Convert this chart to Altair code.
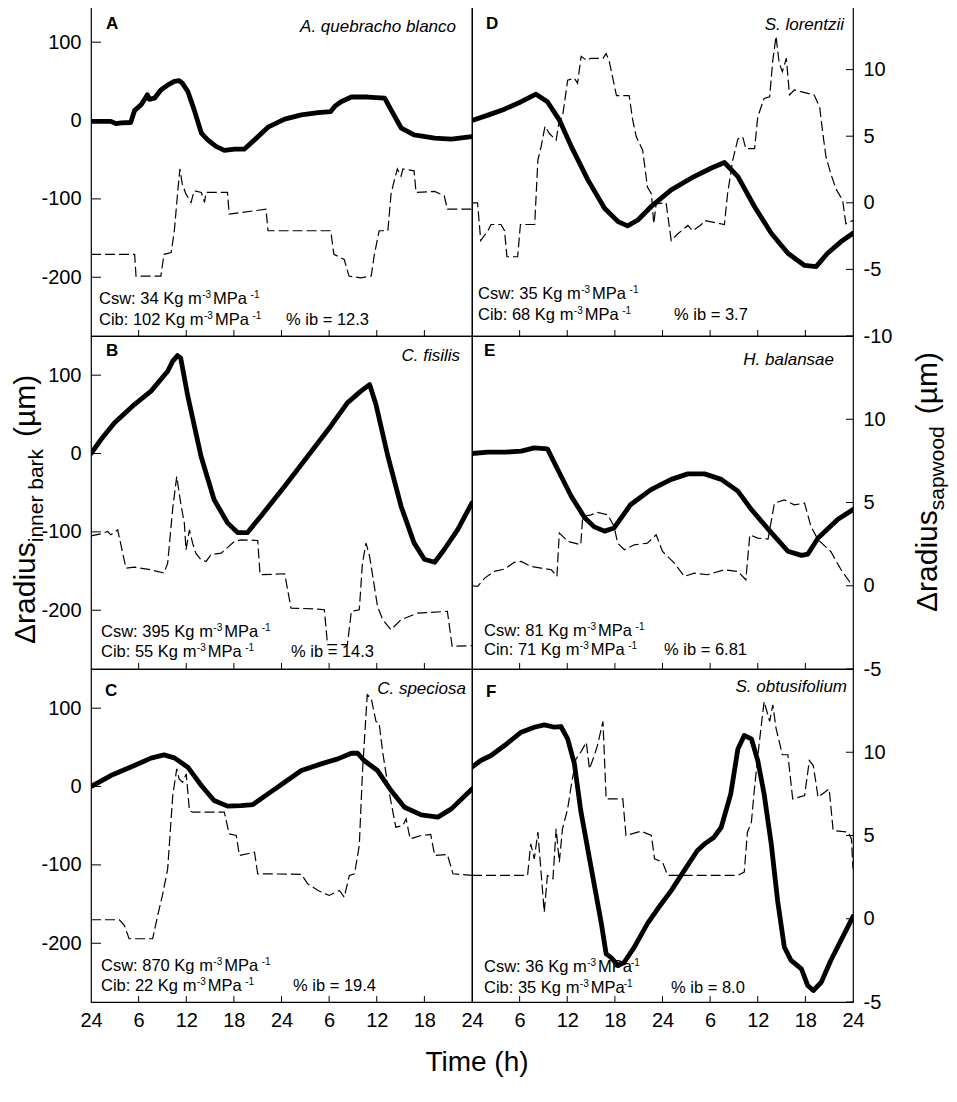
import altair as alt
import pandas as pd

FONT = "Liberation Sans"

# ---------------- data: (time in h, value in µm) ----------------
# inner bark (left axis) and sapwood (right axis) for each panel
A_ib = [(0,-1),(2.5,-1),(3.15,-4),(3.8,-3),(5.0,-2.5),(5.5,13),(6.3,20),(6.7,26),(7.1,33),(7.35,27),(8.0,28.5),(8.8,39),(9.7,45.5),(10.5,50),(11.1,51),(11.5,47.7),(12.2,37),(13.0,13.6),(13.9,-16),(14.7,-24.7),(15.75,-33),(16.8,-38),(18.1,-36.6),(19.3,-36.6),(20.6,-24.7),(22.3,-8.5),(24.4,1.7),(26.5,7.2),(28.6,10.2),(30.2,11.5),(30.7,18),(31.5,24),(32.8,30),(34.9,30),(37.0,28.5),(37.8,13.6),(39.1,-9.8),(40.7,-18.3),(43.3,-22.5),(45.4,-23.8),(48,-20.4)]
A_sw = [(0,-3.87),(5.5,-3.87),(5.67,-5.5),(8.8,-5.5),(9.2,-3.87),(10.1,-3.74),(10.5,-2.1),(10.9,0.65),(11.2,2.54),(11.5,1.4),(11.97,0.65),(12.6,0.03),(13.0,0.9),(13.9,0.78),(14.3,0.03),(14.5,0.78),(17.2,0.78),(17.4,-0.85),(18.9,-0.73),(22.05,-0.48),(22.3,-2.1),(30.2,-2.1),(30.6,-3.87),(31.9,-4.25),(32.5,-5.5),(34.0,-5.63),(35.3,-5.5),(35.7,-3.87),(36.3,-2.1),(37.4,-2.1),(37.8,0.65),(38.2,1.66),(38.6,2.54),(39.06,2.0),(39.3,2.54),(40.7,2.4),(40.95,0.78),(43.3,0.85),(44.5,0.53),(44.9,-0.48),(48,-0.48)]

D_ib = [(0,0),(2.1,7.2),(4.1,14.5),(6.2,24),(8.06,33.6),(9.5,24),(11.0,0.9),(12.5,-33),(14.6,-75.7),(16.7,-112),(18.4,-129),(19.6,-134.5),(20.9,-127),(22.55,-110),(25.1,-88.5),(27.6,-73.6),(30.1,-60.9),(31.8,-53.6),(33.5,-71.5),(35.6,-110),(37.7,-143.8),(39.8,-169.4),(41.9,-185),(43.35,-186.4),(44.8,-169.4),(46.5,-154.5),(48,-143.8)]
D_sw = [(0,0),(0.7,0),(1.1,-2.84),(2.0,-2.1),(2.4,-1.63),(3.65,-1.63),(4.1,-2.1),(4.4,-4.05),(5.75,-4.05),(6.1,-1.63),(7.9,-1.63),(8.3,3.2),(8.7,4.2),(9.2,5.75),(9.75,5.2),(10.6,4.7),(11.0,6.2),(11.4,6.45),(12.05,9.2),(12.9,9.35),(13.3,8.97),(13.75,11.0),(14.4,10.7),(15.0,10.85),(16.5,10.85),(16.9,11.2),(17.3,10.6),(18.2,8.04),(19.8,8.04),(20.25,6.2),(20.7,4.95),(21.5,3.95),(22.1,1.18),(22.6,0.68),(22.9,-1.58),(23.2,-0.08),(24.45,0),(25.1,-2.84),(25.9,-2.34),(27.2,-1.7),(27.8,-2.1),(28.9,-1.63),(29.3,-1.33),(31.8,-1.63),(32.2,0.68),(32.85,3.2),(33.5,4.8),(34.1,4.95),(34.5,4.07),(35.6,4.07),(36.0,6.45),(36.8,7.84),(37.5,7.96),(37.9,10.7),(38.3,12.5),(38.7,10.5),(39.1,9.85),(39.6,10.85),(40.0,8.1),(40.6,8.47),(43.1,8.1),(43.8,7.2),(44.2,5.2),(44.6,3.44),(45.2,2.19),(45.85,1.05),(46.7,0.18),(47.1,-1.58),(48,-1.33)]

B_ib = [(0,0),(1.26,17.9),(2.94,39),(5.46,62.5),(7.56,79.6),(9.66,105),(10.3,117.9),(10.9,125),(11.3,122),(12.2,73),(13.86,-3.4),(15.5,-58.7),(17.2,-88.5),(18.5,-101),(19.7,-101),(21.4,-80),(24.4,-41.7),(27.3,-3.4),(30.2,34.9),(32.3,64.7),(34.0,79.6),(35.1,88),(35.9,62.5),(37.4,-3.4),(39.06,-67.2),(40.7,-114),(42.0,-135),(43.3,-138.7),(44.5,-122.5),(46.2,-97),(48,-63)]
B_sw = [(0,3.0),(1.26,3.12),(2.1,3.26),(2.5,3.06),(3.36,3.36),(4.4,1.06),(5.46,1.12),(7.56,0.96),(9.2,0.76),(9.66,1.36),(10.3,4.66),(10.8,6.56),(11.3,4.96),(11.76,3.76),(11.97,2.16),(12.4,3.36),(12.8,2.56),(13.2,1.96),(13.86,1.56),(14.5,1.46),(15.1,1.86),(16.4,1.96),(18.06,2.66),(18.9,2.76),(21.0,2.72),(21.3,0.66),(24.4,0.72),(25.2,-1.34),(28.56,-1.4),(29.4,-1.44),(29.8,-3.54),(32.3,-3.54),(32.8,-1.54),(33.8,-1.44),(34.2,1.36),(34.65,2.56),(35.1,1.76),(35.5,0.56),(36.1,-1.24),(36.75,-2.04),(37.8,-2.64),(39.06,-2.04),(41.16,-1.64),(44.9,-1.54),(45.5,-3.64),(48,-3.6)]

E_ib = [(0,0),(2.0,1.7),(4.1,1.7),(6.2,3.0),(7.85,7.2),(9.5,6),(10.8,-20.4),(12.5,-54.5),(14.2,-82),(15.4,-93.6),(16.7,-99),(17.9,-95),(20.0,-65),(22.55,-46),(25.1,-33),(27.2,-26),(29.3,-26),(31.4,-33),(33.5,-48),(35.2,-71.5),(37.7,-101),(39.8,-124.7),(41.5,-130),(42.3,-128.5),(43.6,-107.7),(46.1,-84),(48,-71.5)]
E_sw = [(0,0),(0.7,-0.04),(1.6,0.46),(2.8,0.86),(4.1,1.0),(5.3,1.4),(6.2,1.46),(7.4,1.16),(8.7,1.06),(10.0,0.96),(10.7,0.56),(11.0,3.16),(12.1,2.66),(13.7,2.46),(13.95,4.16),(15.0,4.26),(15.8,4.4),(17.1,4.26),(17.9,3.56),(18.35,2.56),(19.2,2.16),(20.45,2.46),(22.1,2.56),(23.2,3.06),(24.0,2.06),(25.5,1.36),(26.75,0.56),(28.0,0.76),(29.7,0.66),(31.8,0.96),(33.5,0.86),(34.5,0.36),(35.0,3.06),(36.0,2.86),(37.3,2.8),(38.1,4.96),(39.35,5.16),(40.6,4.86),(41.9,4.96),(42.7,3.56),(43.6,2.76),(45.2,2.06),(46.5,0.96),(47.75,0.12),(48,0.16)]

C_ib = [(0,0),(2.5,14),(5.46,26.8),(7.56,36.2),(9.2,40.4),(10.5,36.6),(12.2,24.7),(13.9,1.3),(15.5,-17.9),(17.2,-25),(18.9,-24.3),(20.4,-23),(22.3,-9.4),(24.4,5.5),(26.5,20.4),(29.0,28.9),(31.1,35.3),(32.8,42.5),(33.6,42.5),(34.4,33.2),(36.1,20.4),(37.8,-5.1),(39.5,-26.4),(41.6,-36.2),(43.7,-39.1),(45.4,-28.5),(48,-3)]
C_sw = [(0,-0.06),(3.57,-0.06),(4.2,-0.4),(4.8,-1.2),(7.77,-1.2),(8.4,0.2),(9.0,1.4),(9.66,3.0),(10.3,7.4),(10.8,9.0),(11.1,8.4),(11.55,8.2),(12.0,8.7),(12.4,6.5),(12.8,6.4),(16.8,6.4),(17.4,5.1),(18.3,5.0),(18.7,3.8),(20.6,4.0),(21.0,2.7),(26.5,2.67),(27.3,2.1),(28.6,1.7),(30.0,1.4),(31.3,1.7),(31.9,1.3),(32.55,2.6),(33.2,2.7),(33.8,4.4),(34.2,8.8),(34.8,13.45),(35.3,13.25),(35.9,11.85),(36.3,11.75),(36.75,10.0),(37.4,8.0),(38.0,6.5),(38.4,5.5),(39.3,5.6),(39.7,6.0),(40.2,4.8),(41.6,5.0),(42.8,5.06),(43.3,3.8),(44.9,3.86),(45.6,2.7),(48,2.6)]

F_ib = [(0,24.7),(1.1,33.2),(2.4,39.6),(4.1,52.3),(6.2,69.4),(7.85,75.7),(9.1,78.7),(10.4,75.7),(11.2,76.6),(12.05,60.9),(12.9,29),(13.7,-30.6),(15.0,-103),(16.3,-175),(16.9,-213.6),(17.5,-218),(18.4,-228.5),(19.2,-224),(20.45,-205),(22.1,-175),(23.4,-156),(25.1,-132.8),(26.75,-107),(28.4,-81.7),(29.3,-73.2),(30.5,-64.7),(31.4,-52),(32.6,-9.4),(33.5,48),(34.3,65.1),(35.2,60.8),(36.0,33.2),(36.8,-9.4),(37.7,-73.2),(38.5,-145.5),(39.35,-205),(40.2,-222),(41.5,-232.8),(42.3,-254),(43.0,-260.4),(44.0,-249.8),(45.2,-222),(46.9,-188),(48,-166)]
F_sw = [(0,2.61),(7.0,2.61),(7.4,4.5),(7.85,3.6),(8.3,5.2),(8.7,2.8),(9.1,0.4),(9.5,2.6),(10.2,2.4),(10.6,5.4),(11.0,3.4),(11.4,5.4),(12.05,6.6),(12.5,8.0),(13.1,9.6),(13.7,10.0),(14.4,10.6),(14.8,9.0),(15.4,9.8),(15.8,10.4),(16.5,11.85),(16.9,7.2),(19.0,7.2),(19.4,5.0),(21.3,5.26),(22.6,5.0),(23.0,3.6),(24.0,3.4),(24.65,2.61),(33.5,2.61),(34.3,2.8),(34.7,5.2),(35.2,5.8),(35.6,7.9),(36.2,10.6),(36.8,13.05),(37.5,11.85),(37.9,12.85),(38.3,11.45),(39.1,9.85),(39.8,9.85),(40.4,7.2),(41.9,7.4),(42.5,9.5),(43.0,9.2),(43.6,7.3),(45.0,7.8),(45.5,5.3),(47.4,5.2),(47.8,4.8),(48,3.0)]

# axes
X_TICKS = [0, 6, 12, 18, 24, 30, 36, 42, 48]
IB_TICKS = [-200, -100, 0, 100]
IB_DOMAIN = [-275, 150]
SW_DOMAINS = [[-10, 15], [-5, 15], [-5, 15]]
SW_TICKS = [[-10, -5, 0, 5, 10], [-5, 0, 5, 10], [-5, 0, 5, 10]]

# panel annotations
LETTERS = ["A", "B", "C", "D", "E", "F"]
SPECIES = ["A. quebracho blanco", "C. fisilis", "C. speciosa",
           "S. lorentzii", "H. balansae", "S. obtusifolium"]
CSW = ["34", "395", "870", "35", "81", "36"]
CIB = ["102", "55", "22", "68", "71", "35"]
CIB_NAME = ["Cib", "Cib", "Cib", "Cib", "Cin", "Cib"]
PCT = ["% ib = 12.3", "% ib = 14.3", "% ib = 19.4",
       "%  ib = 3.7", "% ib = 6.81", "% ib = 8.0"]

W, H = 381, 333

# text layout (panel-relative pixel positions)
TXT_X = [8, 10, 10, 6, 12, 12]
TXT_Y = [(301, 322), (301, 321), (302, 322), (296, 317), (300, 319), (303, 324)]
PCT_X = [195, 200, 202, 202, 192, 199]
LET_POS = [(15, 26), (15, 20), (14, 27), (14, 26), (12, 20), (14, 28)]
SPE_POS = [(365, 29), (369, 25), (375, 25), (372, 27), (362, 29), (375, 23)]

AW = {'C': 722, 's': 500, 'w': 722, ':': 278, ' ': 278, 'K': 667, 'g': 556,
      'm': 833, 'M': 833, 'P': 667, 'a': 556, 'i': 222, 'b': 556, 'n': 556,
      '-': 333, '%': 889, '=': 584, '.': 278, 'Δ': 668, 'r': 333, 'd': 556,
      'u': 556, 'e': 556, 'k': 500, 'p': 556, 'o': 556, '(': 333, ')': 333,
      'µ': 576}

HYPHEN_LABEL = "datum.value < 0 ? '-' + abs(datum.value) : '' + datum.value"


def tw(s, size):
    return sum(AW.get(ch, 556) for ch in s) * size / 1000.0


ONE = pd.DataFrame({"k": [0]})


def txt(text, x, y, size, **kw):
    params = dict(text=text, font=FONT, fontSize=size, color="black",
                  align="left", baseline="alphabetic")
    params.update(kw)
    return alt.Chart(ONE).mark_text(**params).encode(x=alt.value(x), y=alt.value(y))


def rich(segs, x0, y0, size=16.5, sup=10, rise=6):
    out = []
    x = x0
    for s, is_sup, pre in segs:
        fs = sup if is_sup else size
        x += pre
        out.append(txt(s, x, y0 - rise if is_sup else y0, fs))
        x += tw(s, fs)
    return out


def rich_vertical(segs, xb, y0):
    out = []
    y = y0
    for s, fs, dx, pre in segs:
        y -= pre
        out.append(txt(s, xb + dx, y, fs, angle=270))
        y -= tw(s, fs)
    return out


def panel(idx, ib, sw):
    col = idx // 3
    row = idx % 3
    bottom = row == 2
    xaxis = None
    if bottom:
        xaxis = alt.Axis(values=X_TICKS if col == 0 else X_TICKS[1:],
                         labelExpr="datum.value % 24 == 0 ? '24' : format(datum.value % 24, 'd')",
                         ticks=False, tickSize=0, domain=False, grid=False,
                         labelFontSize=20, labelPadding=8, labelFlush=False,
                         labelOverlap=False, labelFont=FONT, labelColor="black",
                         title=None)
    xscale = alt.Scale(domain=[0, 48], nice=False, zero=False)
    xenc = alt.X("t:Q", scale=xscale, axis=xaxis)
    ibscale = alt.Scale(domain=IB_DOMAIN, nice=False, zero=False)
    swscale = alt.Scale(domain=SW_DOMAINS[row], nice=False, zero=False)

    left_axis = alt.Axis(orient="left", values=IB_TICKS, ticks=False, tickSize=0,
                         domain=False, grid=False, labelFontSize=20, labelPadding=10,
                         labelExpr=HYPHEN_LABEL,
                         labelFont=FONT, labelColor="black", title=None) if col == 0 else None
    right_axis = alt.Axis(orient="right", values=SW_TICKS[row], ticks=False, tickSize=0,
                          domain=False, grid=False, labelFontSize=20, labelPadding=10,
                          labelExpr=HYPHEN_LABEL,
                          labelFont=FONT, labelColor="black", title=None) if col == 1 else None

    ib_df = pd.DataFrame(ib, columns=["t", "v"])
    sw_df = pd.DataFrame(sw, columns=["t", "v"])

    dashed = alt.Chart(sw_df).mark_line(color="black", strokeWidth=1.2,
                                        strokeDash=[10, 4], clip=True).encode(
        x=xenc, y=alt.Y("v:Q", scale=swscale, axis=right_axis), order="t:Q")
    thick = alt.Chart(ib_df).mark_line(color="black", strokeWidth=4.8,
                                       strokeJoin="round", strokeCap="round", clip=True).encode(
        x=xenc, y=alt.Y("v:Q", scale=ibscale, axis=left_axis), order="t:Q")

    layers = [dashed, thick]

    # inward tick marks
    xt = alt.Chart(pd.DataFrame({"t": X_TICKS[1:-1]})).mark_rule(
        color="black", strokeWidth=1).encode(x=xenc, y=alt.value(H - 6), y2=alt.value(H))
    layers.append(xt)
    if col == 0:
        yt = alt.Chart(pd.DataFrame({"v": IB_TICKS})).mark_rule(
            color="black", strokeWidth=1).encode(
            y=alt.Y("v:Q", scale=ibscale, axis=None), x=alt.value(0), x2=alt.value(10))
    else:
        yt = alt.Chart(pd.DataFrame({"v": SW_TICKS[row]})).mark_rule(
            color="black", strokeWidth=1).encode(
            y=alt.Y("v:Q", scale=swscale, axis=None), x=alt.value(W - 7), x2=alt.value(W))
    layers.append(yt)

    # annotations
    tx = TXT_X[idx]
    y1, y2 = TXT_Y[idx]
    gap = "" if idx == 5 else " "
    layers += rich([("Csw: %s Kg m" % CSW[idx], False, 0), ("-3", True, 0.5),
                    (gap + "MPa", False, 2), ("-1", True, -1)], tx, y1)
    layers += rich([("%s: %s Kg m" % (CIB_NAME[idx], CIB[idx]), False, 0), ("-3", True, 0.5),
                    (gap + "MPa", False, 2), ("-1", True, -1)], tx, y2)
    layers.append(txt(PCT[idx], PCT_X[idx], y2, 16.5))
    lx, ly = LET_POS[idx]
    layers.append(txt(LETTERS[idx], lx, ly, 17, fontWeight="bold"))
    sx, sy = SPE_POS[idx]
    layers.append(txt(SPECIES[idx], sx, sy, 17, fontStyle="italic", align="right"))

    if idx == 1:
        layers += rich_vertical([("Δradius", 30, 0, 0), ("inner bark", 21, 8, 0),
                                 ("(µm)", 30, 0, 12)], -56, 308)
    if idx == 4:
        layers += rich_vertical([("Δradius", 30, 0, 0), ("sapwood", 21, 7, 0),
                                 ("(µm)", 30, 0, 12)], 465, 276)
    if idx == 2:
        layers.append(txt("Time (h)", W + 5, 402, 28, align="center"))

    return alt.layer(*layers).resolve_scale(y="independent").properties(width=W, height=H)


series = [(A_ib, A_sw), (B_ib, B_sw), (C_ib, C_sw), (D_ib, D_sw), (E_ib, E_sw), (F_ib, F_sw)]
panels = [panel(i, ib, sw) for i, (ib, sw) in enumerate(series)]

order = [0, 3, 1, 4, 2, 5]   # A D / B E / C F
chart = alt.concat(*[panels[i] for i in order], columns=2, spacing=0, bounds="flush").properties(
    padding={"left": 2, "top": -6, "right": 0, "bottom": 4},
    background="white",
).configure_view(stroke="black", strokeWidth=1.2)

chart.save("out.html", embed_options={"renderer": "svg", "actions": False})
